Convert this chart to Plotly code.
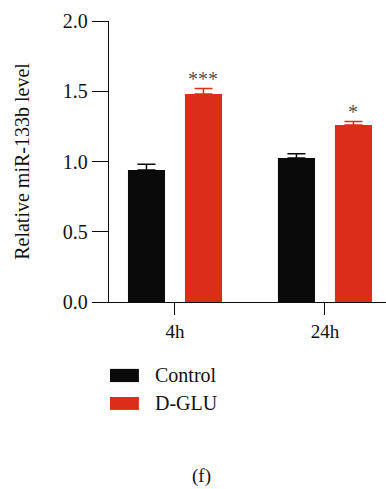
import plotly.graph_objects as go

categories = ["4h", "24h"]
series_names = ["Control", "D-GLU"]
control_mean = [0.94, 1.025]
control_err = [0.04, 0.03]
dglu_mean = [1.48, 1.26]
dglu_err = [0.04, 0.025]
significance = ["***", "*"]
y_ticks = [0.0, 0.5, 1.0, 1.5, 2.0]
y_tick_labels = ["0.0", "0.5", "1.0", "1.5", "2.0"]

BLACK = "#0a0a0a"
RED = "#dc2d1b"
FONT = "Liberation Serif"

fig = go.Figure()
fig.add_trace(go.Bar(
    x=categories, y=control_mean, name=series_names[0], marker_color=BLACK,
    marker_line_width=0,
    error_y=dict(type="data", array=control_err, arrayminus=[0, 0], symmetric=False,
                 color=BLACK, thickness=1.5, width=9),
))
fig.add_trace(go.Bar(
    x=categories, y=dglu_mean, name=series_names[1], marker_color=RED,
    marker_line_width=0,
    error_y=dict(type="data", array=dglu_err, arrayminus=[0, 0], symmetric=False,
                 color=RED, thickness=1.5, width=9),
))

# significance marks above D-GLU bars
for cat, m, e, s in zip(categories, dglu_mean, dglu_err, significance):
    fig.add_annotation(x=cat, y=m + e, xref="x", yref="y", text=s, showarrow=False,
                       xshift=28, yshift=-4, yanchor="bottom",
                       font=dict(family=FONT, size=20, color="#555555"))

# legend drawn manually
legend_colors = [BLACK, RED]
legend_rows = [(-0.238, -0.285), (-0.338, -0.384)]
for name, col, (y0, y1) in zip(series_names, legend_colors, legend_rows):
    fig.add_shape(type="rect", xref="paper", yref="paper", x0=0.0036, x1=0.108,
                  y0=y1, y1=y0, fillcolor=col, line_width=0)
    fig.add_annotation(xref="paper", yref="paper", x=0.159, y=(y0 + y1) / 2,
                       text=name, showarrow=False, xanchor="left", yanchor="middle",
                       font=dict(family=FONT, size=20, color="#111111"))

fig.add_annotation(xref="paper", yref="paper", x=0.335, y=-0.62, text="(f)",
                   showarrow=False, xanchor="center", yanchor="middle",
                   font=dict(family=FONT, size=19, color="#111111"))

fig.update_layout(
    width=386, height=489,
    margin=dict(l=109, r=0, t=21, b=187),
    paper_bgcolor="white", plot_bgcolor="white",
    barmode="group", bargap=0.24, bargroupgap=0.35,
    showlegend=False,
    font=dict(family=FONT, size=19, color="#111111"),
)
fig.update_xaxes(
    type="category", range=[-0.44, 1.407],
    showline=True, linecolor=BLACK, linewidth=1.4,
    ticks="outside", ticklen=12, tickwidth=1.4, tickcolor=BLACK,
    tickfont=dict(family=FONT, size=19), showgrid=False, zeroline=False,
)
fig.update_yaxes(
    range=[0, 2.0], tickvals=y_ticks, ticktext=y_tick_labels,
    showline=True, linecolor=BLACK, linewidth=1.4,
    ticks="outside", ticklen=16, tickwidth=1.4, tickcolor=BLACK,
    tickfont=dict(family=FONT, size=20), showgrid=False, zeroline=False,
    title=dict(text="Relative miR-133b level", font=dict(family=FONT, size=20), standoff=27),
)

fig.write_html("out.html")
